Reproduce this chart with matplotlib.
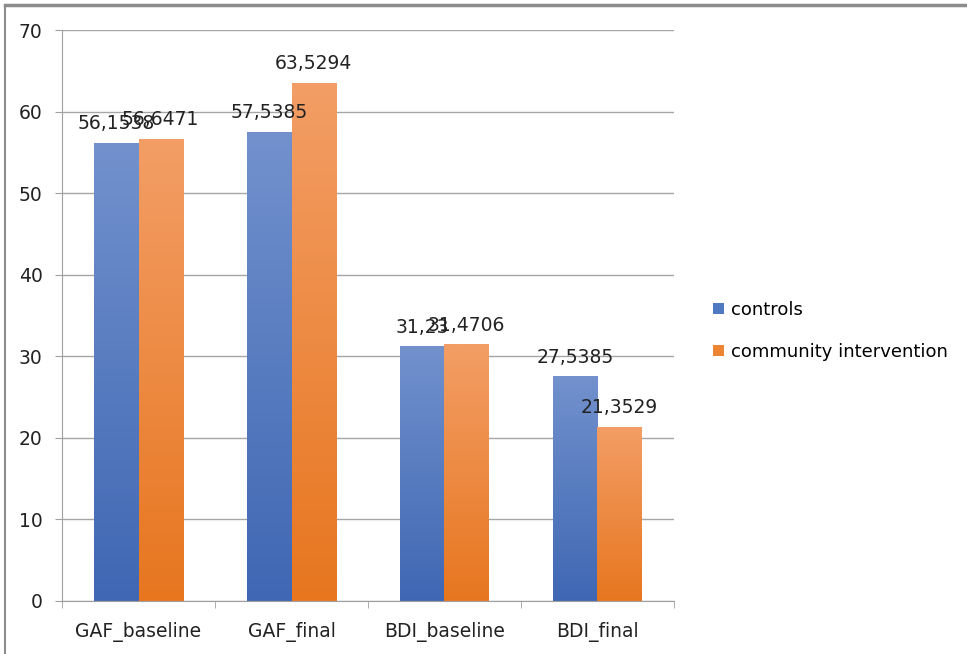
import numpy as np
import matplotlib.pyplot as plt
from matplotlib.lines import Line2D
from matplotlib.colors import LinearSegmentedColormap

categories = ['GAF_baseline', 'GAF_final', 'BDI_baseline', 'BDI_final']
controls = [56.1538, 57.5385, 31.23, 27.5385]
community = [56.6471, 63.5294, 31.4706, 21.3529]
series_names = ['controls', 'community intervention']
yticks = [0, 10, 20, 30, 40, 50, 60, 70]

blue_grad = LinearSegmentedColormap.from_list('b', ['#3F67B3', '#7291CD'])
orange_grad = LinearSegmentedColormap.from_list('o', ['#E7761F', '#F39E66'])

fig = plt.figure(figsize=(9.67, 6.54), dpi=100)
ax = fig.add_axes([62/967, 53/654, 612/967, 571/654])

x = np.arange(len(categories))
w = 0.288
b1 = ax.bar(x - w/2, controls, w, color='#4F79C0', label=series_names[0])
b2 = ax.bar(x + w/2, community, w, color='#ED8434', label=series_names[1])

# vertical gradient fill like the original spreadsheet chart
grad = np.linspace(0, 1, 256).reshape(-1, 1)
for bars, cmap in ((b1, blue_grad), (b2, orange_grad)):
    for p in bars:
        x0, y0 = p.get_x(), p.get_y()
        im = ax.imshow(grad, cmap=cmap, origin='lower', aspect='auto',
                       extent=[x0, x0 + p.get_width(), y0, y0 + p.get_height()],
                       zorder=p.get_zorder())
        im.set_clip_path(p)
        p.set_alpha(0)

def fmt(v):
    s = ('%.4f' % v).rstrip('0').rstrip('.')
    return s.replace('.', ',')

for bars, vals in ((b1, controls), (b2, community)):
    for p, v in zip(bars, vals):
        ax.annotate(fmt(v), (p.get_x() + p.get_width()/2, v), xytext=(0, 7),
                    textcoords='offset points', ha='center', va='bottom',
                    fontsize=13.5, color='#222222')

ax.set_xlim(-0.5, 3.5)
ax.set_ylim(0, 70)
ax.set_yticks(yticks)
ax.set_xticks(x)
ax.set_xticklabels(categories)
ax.set_xticks(np.arange(-0.5, 4.0, 1.0), minor=True)
ax.tick_params(axis='x', which='major', length=0, pad=15, labelsize=13.5, colors='#222222')
ax.tick_params(axis='x', which='minor', length=5, color='#A0A0A0', direction='out')
ax.tick_params(axis='y', length=5, color='#A0A0A0', pad=9, labelsize=13.5, labelcolor='#222222')
ax.yaxis.grid(True, color='#A6A6A6', linewidth=1)
ax.set_axisbelow(True)
for s in ('top', 'right'):
    ax.spines[s].set_visible(False)
for s in ('left', 'bottom'):
    ax.spines[s].set_color('#A0A0A0')

leg = fig.legend(handles=[b1[0], b2[0]], labels=series_names, loc='center left',
                 bbox_to_anchor=(697/967, 1 - 331/654), frameon=False, fontsize=13,
                 handlelength=0.6, handleheight=0.55, handletextpad=0.4, labelspacing=1.3)
for h, c in zip(leg.legend_handles, ('#4F79C0', '#ED8434')):
    h.set_alpha(1)
    h.set_facecolor(c)

# outer frame (top and left edges visible)
fig.add_artist(Line2D([5/967, 1], [1 - 5/654, 1 - 5/654], color='#8C8C8C', linewidth=2.5,
                      transform=fig.transFigure))
fig.add_artist(Line2D([5/967, 5/967], [0, 1 - 5/654], color='#8C8C8C', linewidth=1.5,
                      transform=fig.transFigure))

fig.savefig('out.png', dpi=100)
